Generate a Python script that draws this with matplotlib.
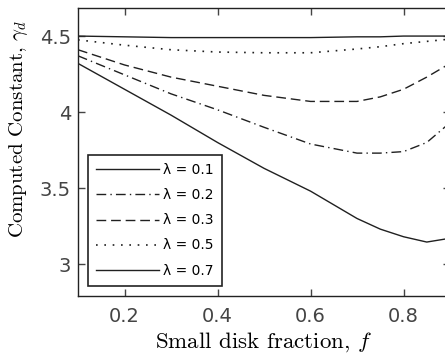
import numpy as np
import matplotlib
matplotlib.use('Agg')
import matplotlib.pyplot as plt

# data
f = [0.1, 0.2, 0.3, 0.4, 0.5, 0.6, 0.7, 0.75, 0.8, 0.85, 0.9]
lam_01 = [4.32, 4.15, 3.98, 3.80, 3.63, 3.48, 3.30, 3.23, 3.18, 3.145, 3.17]
lam_02 = [4.37, 4.245, 4.12, 4.015, 3.90, 3.79, 3.73, 3.73, 3.74, 3.80, 3.93]
lam_03 = [4.41, 4.31, 4.23, 4.17, 4.11, 4.07, 4.07, 4.10, 4.15, 4.23, 4.32]
lam_05 = [4.475, 4.44, 4.41, 4.395, 4.39, 4.39, 4.415, 4.43, 4.45, 4.465, 4.48]
lam_07 = [4.50, 4.495, 4.49, 4.49, 4.49, 4.49, 4.495, 4.495, 4.50, 4.50, 4.50]
labels = ['\u03bb = 0.1', '\u03bb = 0.2', '\u03bb = 0.3', '\u03bb = 0.5', '\u03bb = 0.7']
xticks = [0.2, 0.4, 0.6, 0.8]
yticks = [3, 3.5, 4, 4.5]

plt.rcParams['mathtext.fontset'] = 'cm'

fig = plt.figure(figsize=(4.45, 3.61), dpi=100)
ax = fig.add_axes([0.1753, 0.18, 0.836, 0.798])

c = '#202020'
ax.plot(f, lam_01, color=c, lw=1.0, ls='-', label=labels[0])
ax.plot(f, lam_02, color=c, lw=1.0, ls=(0, (7, 3, 1, 3)), label=labels[1])
ax.plot(f, lam_03, color=c, lw=1.0, ls=(0, (7, 3.5)), label=labels[2])
ax.plot(f, lam_05, color=c, lw=1.2, ls=(0, (1, 4)), label=labels[3])
ax.plot(f, lam_07, color=c, lw=1.0, ls='-', label=labels[4])

ax.set_xlim(0.1, 0.9)
ax.set_ylim(2.79, 4.685)
ax.set_xticks(xticks)
ax.set_yticks(yticks)
ax.set_xticklabels(['0.2', '0.4', '0.6', '0.8'])
ax.set_yticklabels(['3', '3.5', '4', '4.5'])
ax.tick_params(direction='in', length=5, width=1, top=True, right=True,
               labelsize=14, colors='#444444')
ax.tick_params(axis='x', pad=8)
ax.tick_params(axis='y', pad=5)
for lab in ax.get_xticklabels() + ax.get_yticklabels():
    lab.set_fontfamily('DejaVu Sans')
for s in ax.spines.values():
    s.set_linewidth(1.0)
    s.set_color('#222222')

ax.set_xlabel('Small disk fraction, $f$', fontfamily='cmr10', fontsize=16.5, labelpad=3)
ax.set_ylabel('Computed Constant, $\\gamma_d$', fontfamily='cmr10', fontsize=15, labelpad=2)
ax.yaxis.set_label_coords(-0.13, 0.58)

leg = ax.legend(loc='lower left', bbox_to_anchor=(0.027, 0.035), borderaxespad=0,
                fancybox=False, edgecolor='#222222', framealpha=1, handlelength=4.5,
                labelspacing=0.8, borderpad=0.6, handletextpad=0.3,
                prop={'family': 'DejaVu Sans', 'size': 10})
leg.get_frame().set_linewidth(1.2)

fig.savefig('out.png', dpi=100)
